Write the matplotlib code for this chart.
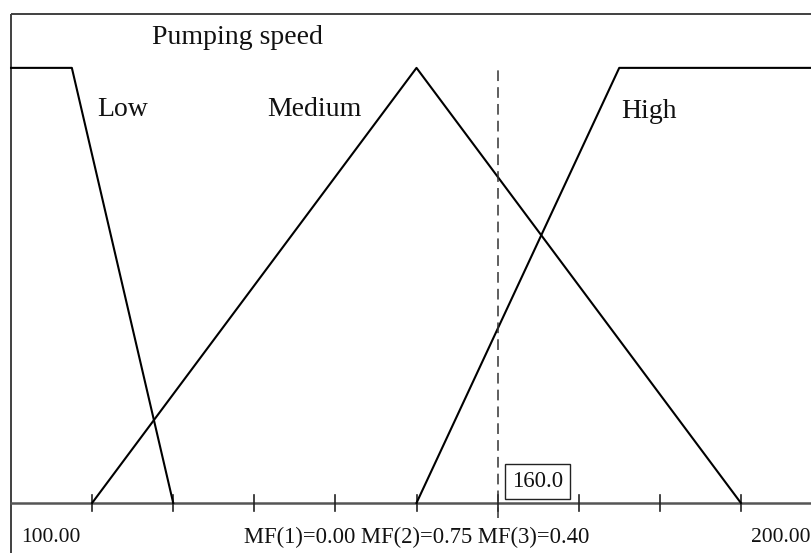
import matplotlib.pyplot as plt
import numpy as np
from matplotlib import rcParams

# membership functions of "Pumping speed"
low_x = [100, 107.5, 120]
low_y = [1, 1, 0]
medium_x = [110, 150, 190]
medium_y = [0, 1, 0]
high_x = [150, 175, 200]
high_y = [0, 1, 1]
set_names = ['Low', 'Medium', 'High']
tick_values = [110, 120, 130, 140, 150, 160, 170, 180, 190]
crisp_input = 160.0
mf_text = 'MF(1)=0.00 MF(2)=0.75 MF(3)=0.40'

rcParams.update({
    'font.family': ['Liberation Serif', 'DejaVu Serif'],
    'mathtext.fontset': 'stix',
})

fig = plt.figure(figsize=(8.12, 5.53), dpi=100)
ax = fig.add_axes([0, 0, 1, 1])
ax.set_xlim(98.64, 198.77)
ax.set_ylim(-0.115, 1.156)
ax.axis('off')

# frame (left and top, the rest is cropped)
frame_top = 1.124
ax.plot([100, 100], [-0.2, frame_top], color='#404040', lw=1.4, solid_capstyle='butt')
ax.plot([100, 210], [frame_top, frame_top], color='#404040', lw=1.4, solid_capstyle='butt')

# x axis with ticks
ax.plot([100, 210], [0, 0], color='#555555', lw=1.8)
for t in tick_values:
    ax.plot([t, t], [-0.018, 0.018], color='#222222', lw=1.2)

# membership curves
ax.plot(low_x, low_y, color='black', lw=1.5)
ax.plot(medium_x, medium_y, color='black', lw=1.5)
ax.plot(high_x, high_y, color='black', lw=1.5)

# crisp input
ax.plot([crisp_input, crisp_input], [-0.035, 1.0], color='#333333', lw=1.1,
        linestyle=(0, (7, 4)))
ax.text(crisp_input + 4.9, 0.05, f'{crisp_input:.1f}', fontsize=16.5, ha='center',
        va='center', color='#111111',
        bbox=dict(boxstyle='square,pad=0.3', fc='white', ec='#222222', lw=1.0))

# labels
ax.text(127.9, 1.07, 'Pumping speed', fontsize=20, ha='center', va='center', color='#111111')
ax.text(110.6, 0.905, set_names[0], fontsize=20, ha='left', va='center', color='#111111')
ax.text(131.6, 0.905, set_names[1], fontsize=20, ha='left', va='center', color='#111111')
ax.text(175.3, 0.9, set_names[2], fontsize=20, ha='left', va='center', color='#111111')

ax.text(101.3, -0.08, '100.00', fontsize=15.5, ha='left', va='center', color='#111111')
ax.text(150, -0.08, mf_text, fontsize=16.3, ha='center', va='center', color='#111111')
ax.text(198.6, -0.08, '200.00', fontsize=15.5, ha='right', va='center', color='#111111')

fig.savefig('out.png', dpi=100)
